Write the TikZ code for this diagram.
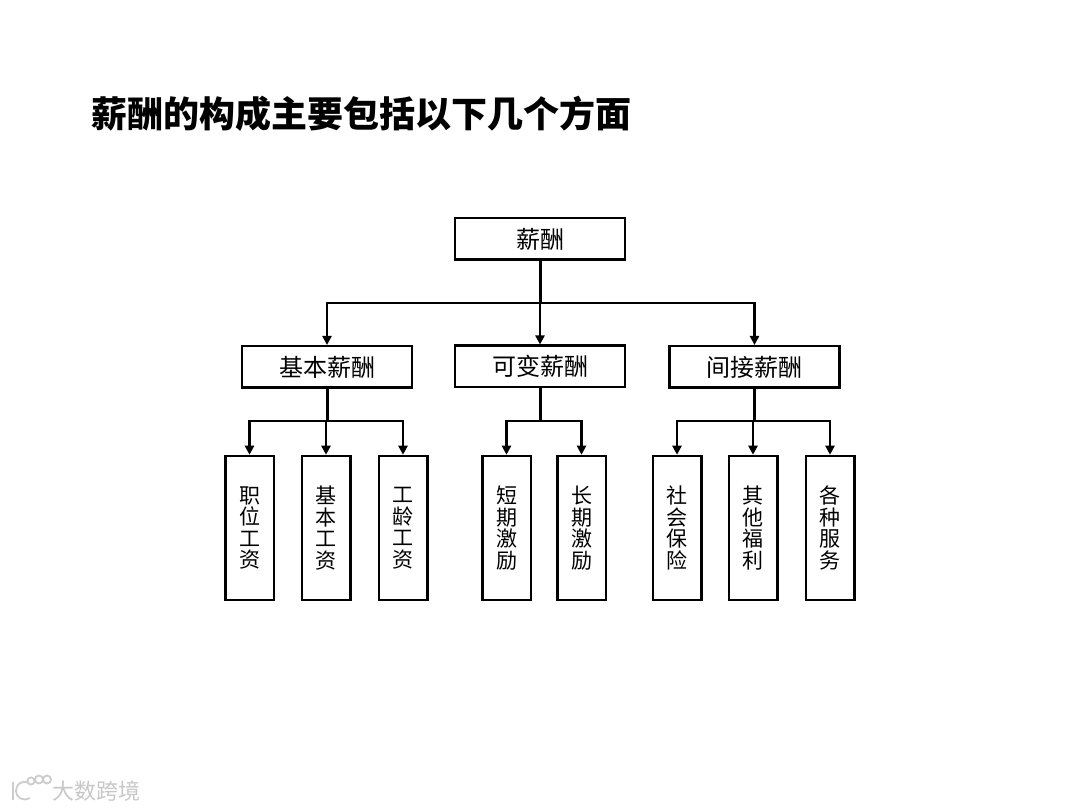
\documentclass[tikz,border=0pt]{standalone}
\usepackage{fontspec}
\setmainfont{Noto Sans CJK SC}
\usetikzlibrary{arrows.meta}
\tikzset{
 hbox/.style={draw=black,line width=2.5pt,fill=white,minimum width=170pt,minimum height=41.5pt,inner sep=0pt,font=\fontsize{24}{26}\selectfont},
 vbox/.style={draw=black,line width=2.5pt,fill=white,minimum width=48.5pt,minimum height=144pt,inner sep=0pt,font=\fontsize{21}{21.5}\selectfont,align=center},
 link/.style={draw=black,line width=2.5pt,-{Triangle[length=9pt,width=9pt]}},
 plainlink/.style={draw=black,line width=3pt},
 mark text/.style={text=black!22,font=\fontsize{22}{24}\selectfont},
}
\begin{document}
\begin{tikzpicture}[x=1pt,y=-1pt]
\useasboundingbox (0,0) rectangle (1080,810);
\node[font=\fontsize{36}{40}\selectfont\bfseries,anchor=west,inner sep=0pt] (title) at (91,114) {薪酬的构成主要包括以下几个方面};
\node[hbox] (root) at (540,239) {薪酬};
\node[hbox] (a) at (327,367) {基本薪酬};
\node[hbox] (b) at (540,366.5) {可变薪酬};
\node[hbox] (c) at (754.5,367) {间接薪酬};
\node[vbox] (a1) at (249.5,528) {职\\位\\工\\资};
\node[vbox] (a2) at (326,528) {基\\本\\工\\资};
\node[vbox] (a3) at (403,528) {工\\龄\\工\\资};
\node[vbox] (b1) at (506.5,528) {短\\期\\激\\励};
\node[vbox] (b2) at (581.5,528) {长\\期\\激\\励};
\node[vbox] (c1) at (677,528) {社\\会\\保\\险};
\node[vbox] (c2) at (753,528) {其\\他\\福\\利};
\node[vbox] (c3) at (830,528) {各\\种\\服\\务};
\coordinate (rj) at (540,303);
\coordinate (aj) at (327,421);
\coordinate (bj) at (540,421);
\coordinate (cj) at (754.5,421);
\draw[plainlink] (root.south) -- (rj);
\draw[link] (rj) -| (a.north);
\draw[link] (rj) -- (b.north);
\draw[link] (rj) -| (c.north);
\draw[plainlink] (a.south) -- (aj);
\draw[plainlink] (b.south) -- (bj);
\draw[plainlink] (c.south) -- (cj);
\draw[link] (aj) -| (a1.north);
\draw[link] (aj) -| (a2.north);
\draw[link] (aj) -| (a3.north);
\draw[link] (bj) -| (b1.north);
\draw[link] (bj) -| (b2.north);
\draw[link] (cj) -| (c1.north);
\draw[link] (cj) -| (c2.north);
\draw[link] (cj) -| (c3.north);
% watermark
\begin{scope}[draw=black!20,line width=1.8pt]
\draw (13,782) -- (13,800);
\draw (29,783) .. controls (20,779) and (16,786) .. (16,791) .. controls (16,797) and (22,802) .. (30,798);
\draw (31,781) circle (3.6);
\draw (39,779.5) circle (4);
\draw (47,779.5) circle (4);
\end{scope}
\node[mark text,anchor=west,inner sep=0pt] (wm) at (52,791) {大数跨境};
\end{tikzpicture}
\end{document}
